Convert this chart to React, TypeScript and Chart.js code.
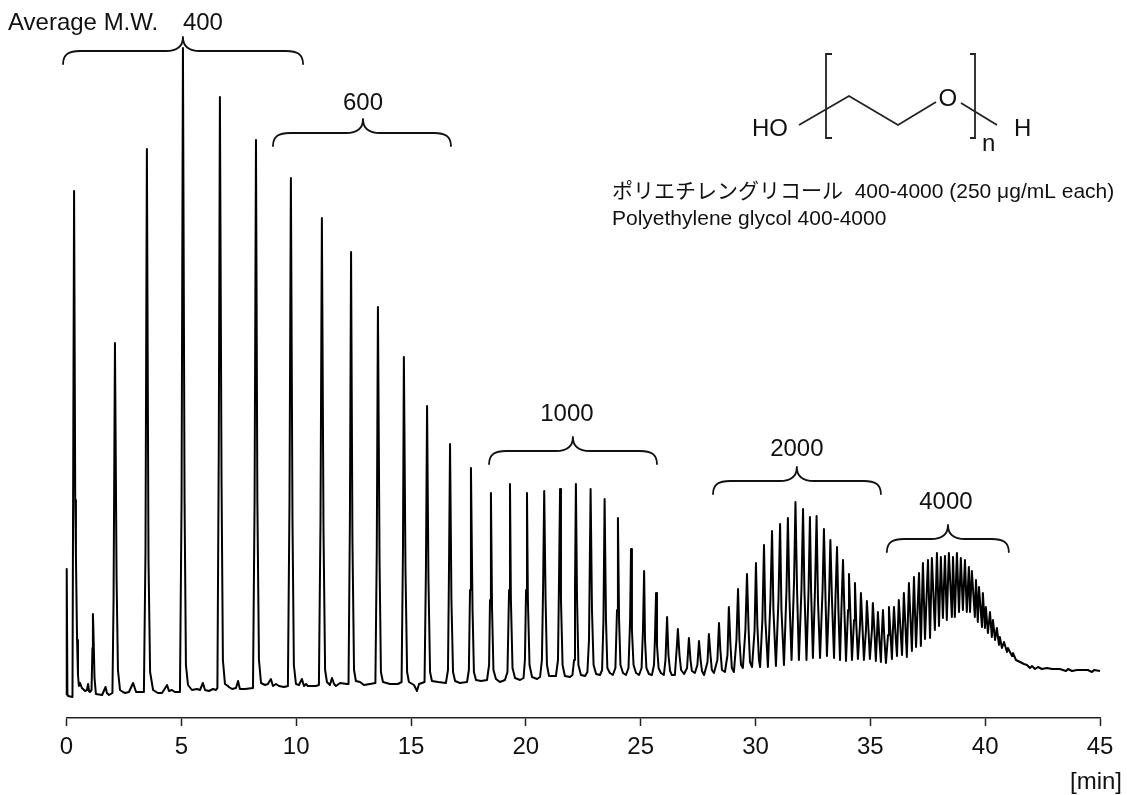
import React, { useEffect, useRef } from "react";
import { Chart, registerables } from "chart.js";

Chart.register(...registerables);

const xTicks = [0, 5, 10, 15, 20, 25, 30, 35, 40, 45];

// Trace vertices: retention time [min] and detector signal.
const startTimes = [0,0.01,0.04,0.07,0.26,0.33,0.38,0.41,0.46,0.5,0.54,0.59,0.67,0.81,0.89,0.94,0.98,1.02,1.09,1.13,1.15,1.17,1.22,1.28,1.55,1.7,1.76,1.85,2,2.05,2.11,2.18,2.24,2.33,2.46,2.55,2.72,2.9,3.03,3.2,3.37,3.44,3.5,3.57,3.64,3.77,3.98,4.16,4.38,4.46,4.59,4.72,4.94];
const startSignal = [23,149,24,22,21,527,218,163,78,43,32,35,30,27,28,34,27,26,28,70,104,90,40,24,23,31,25,23,25,120,375,140,48,28,26,25,26,35,26,26,26,168,569,158,46,28,25,25,33,27,28,26,26];

const mw400Times = [5.01,5.07,5.14,5.2,5.29,5.46,5.68,5.81,5.94,6.03,6.2,6.38,6.51,6.57,6.63,6.68,6.75,6.81,6.9,7.03,7.07,7.21,7.38,7.47,7.55,7.77,8.12,8.19,8.25,8.31,8.38,8.47,8.64,8.77,8.9,8.99,9.12,9.25,9.47,9.64,9.71,9.77,9.84,9.9,9.99,10.12,10.25,10.34,10.43,10.51,10.86,10.99,11.06,11.12,11.19,11.26,11.34,11.47,11.56,11.65,11.73,11.91,12.21,12.28];
const mw400Signal = [218,670,218,53,33,28,29,28,35,28,27,29,28,30,268,621,238,58,34,32,31,29,30,37,29,29,30,218,578,218,58,35,33,34,39,32,34,32,31,32,218,540,198,53,34,33,39,32,34,32,32,33,198,500,188,48,36,33,40,34,32,35,34,34];

const mw600Times = [12.34,12.39,12.45,12.52,12.6,12.78,12.95,13.21,13.45,13.51,13.56,13.63,13.69,13.78,14.09,14.43,14.59,14.65,14.69,14.76,14.83,14.91,15.13,15.26,15.35,15.59,15.65,15.7,15.76,15.83,15.91,16.18,16.52,16.61,16.65,16.7,16.76,16.83,16.92,17.13,17.44,17.52,17.57,17.61,17.68,17.74,17.83,18.05,18.31];
const mw600Signal = [198,466,178,48,37,36,33,34,35,168,411,158,46,36,34,34,36,168,361,148,46,36,33,27,34,36,148,312,138,46,37,36,35,48,138,274,118,46,37,35,36,48,128,250,108,46,38,37,38];

const mw1000Times = [18.4,18.44,18.48,18.53,18.59,18.7,18.87,19.09,19.2,19.27,19.31,19.35,19.42,19.53,19.75,19.9,19.96,20.01,20.05,20.09,20.16,20.27,20.49,20.62,20.7,20.75,20.8,20.86,20.92,21.01,21.18,21.31,21.4,21.44,21.49,21.53,21.6,21.7,21.92,22.03,22.1,22.14,22.18,22.23,22.29,22.4,22.58,22.68,22.75,22.82,22.88,22.95,23.06,23.23,23.32,23.38,23.43,23.49,23.55,23.66,23.79,23.9,23.97,24.01,24.06,24.12,24.23,24.36,24.47,24.54,24.58,24.62,24.69,24.8,24.93,25.04,25.1,25.15,25.19,25.25,25.36,25.49,25.58,25.62,25.67,25.71,25.78,25.88,26.01,26.08,26.15,26.21,26.28,26.36,26.49,26.58,26.62,26.69,26.76,26.89,27.02,27.1,27.17,27.23,27.36,27.47,27.54,27.61,27.67,27.76];
const mw1000Signal = [53,118,225,108,48,39,36,38,46,128,234,118,50,40,38,40,58,128,225,118,53,41,39,41,58,128,227,118,53,42,42,42,58,128,229,118,53,42,41,43,58,128,234,118,53,43,42,46,78,229,108,53,44,43,48,98,219,98,50,45,43,50,108,200,98,53,45,43,50,98,169,88,53,45,43,50,88,147,78,50,44,43,53,78,125,73,50,45,43,58,101,63,47,43,43,73,89,63,48,44,50,80,58,47,45,53,77,58,47,43];

const mw2000Times = [27.91,27.97,28.04,28.1,28.19,28.34,28.41,28.47,28.54,28.67,28.78,28.84,28.91,28.97,29.06,29.17,29.24,29.3,29.37,29.45,29.56,29.63,29.7,29.76,29.85,29.96,30.02,30.08,30.15,30.2,30.3,30.37,30.43,30.54,30.65,30.72,30.78,30.89,31,31.07,31.13,31.24,31.35,31.41,31.48,31.57,31.68,31.74,31.81,31.89,32,32.07,32.13,32.22,32.31,32.37,32.42,32.5,32.59,32.66,32.72,32.81,32.92,32.98,33.05,33.11,33.2,33.26,33.33,33.42,33.48,33.55,33.61,33.68,33.74,33.81,33.87,33.94,34.03,34.07,34.14,34.2,34.29,34.33,34.39,34.46,34.55,34.59,34.66,34.72,34.81,34.85,34.92,34.98,35.07,35.11,35.18,35.24,35.29,35.33,35.39,35.46,35.5,35.55,35.61,35.68,35.77,35.81,35.88,35.94,35.98,36.03,36.09,36.16];
const mw2000Signal = [56,84,63,48,45,58,95,68,48,46,63,111,73,50,46,78,129,78,53,50,88,144,88,56,51,88,155,93,58,51,98,173,98,51,118,187,108,52,118,194,108,53,128,200,118,58,138,216,128,58,128,209,128,58,128,201,128,60,128,202,118,60,128,189,118,62,118,178,118,60,118,171,108,58,108,158,108,57,108,144,98,58,98,135,93,59,93,125,90,58,88,117,88,59,88,115,86,57,83,106,80,56,83,108,80,55,83,111,83,59,86,111,86,62];

const mw4000Times = [36.24,36.38,36.46,36.59,36.68,36.81,36.9,36.99,37.12,37.2,37.29,37.38,37.51,37.6,37.68,37.81,37.9,37.99,38.07,38.16,38.25,38.33,38.42,38.55,38.6,38.68,38.77,38.86,38.94,39.03,39.12,39.2,39.29,39.34,39.42,39.55,39.6,39.68,39.73,39.86,39.9,39.99,40.03,40.12,40.21,40.29,40.34,40.43,40.51,40.6,40.64,40.73,40.82,40.95,40.99,41.17,41.21,41.34];
const mw4000Signal = [118,63,125,61,135,67,141,71,145,72,155,79,158,80,160,88,165,92,161,100,162,98,165,101,161,101,165,106,160,108,158,106,151,106,147,101,138,96,131,91,125,90,111,85,106,81,98,78,90,73,81,70,76,66,70,62,65,58];

const tailTimes = [41.52,41.69,41.82,41.95,42.04,42.17,42.3,42.47,42.69,42.91,43.25,43.52,43.61,43.78,44,44.21,44.47,44.65,44.74,45];
const tailSignal = [56,54,53,50,52,49,51,49,50,49,49,47,49,47,48,48,48,46,48,47];

const traceTimes = [...startTimes, ...mw400Times, ...mw600Times, ...mw1000Times, ...mw2000Times, ...mw4000Times, ...tailTimes];
const traceSignal = [...startSignal, ...mw400Signal, ...mw600Signal, ...mw1000Signal, ...mw2000Signal, ...mw4000Signal, ...tailSignal];

// Molecular-weight ranges marked with curly braces.
const rangeLabels = ["400", "600", "1000", "2000", "4000"];
const rangeStarts = [-0.15, 8.99, 18.4, 28.15, 35.72];
const rangeEnds = [10.3, 16.74, 25.71, 35.46, 41.03];
const rangeMids = [5.07, 12.91, 22.05, 31.8, 38.38];
const rangeLevels = [667, 585, 267, 237, 179];
const labelOffsets = [[20, -28], [0, -30], [-6, -37], [0, -32], [-2, -37]];

const sansFont = '"Liberation Sans", "Noto Sans CJK JP", Arial, sans-serif';
const labelFont = `24px ${sansFont}`;
const noteFont = `21px ${sansFont}`;
const ink = "#111";

const annotationPlugin = {
  id: "annotations",
  afterDatasetsDraw(chart: any) {
    const { ctx } = chart;
    const xs = chart.scales.x;
    const ys = chart.scales.y;
    ctx.save();
    ctx.strokeStyle = ink;
    ctx.fillStyle = ink;
    ctx.lineWidth = 1.8;
    ctx.lineCap = "round";
    ctx.lineJoin = "round";
    ctx.font = labelFont;
    ctx.textBaseline = "middle";

    rangeLabels.forEach((label, i) => {
      const x0 = xs.getPixelForValue(rangeStarts[i]);
      const x1 = xs.getPixelForValue(rangeEnds[i]);
      const m = xs.getPixelForValue(rangeMids[i]);
      const y = ys.getPixelForValue(rangeLevels[i]);
      const h = 13;
      const r = 17;
      ctx.beginPath();
      ctx.moveTo(x0, y + h);
      ctx.bezierCurveTo(x0, y + 3, x0 + 6, y, x0 + r, y);
      ctx.lineTo(m - r, y);
      ctx.bezierCurveTo(m - 6, y, m, y - 5, m, y - h - 1);
      ctx.bezierCurveTo(m, y - 5, m + 6, y, m + r, y);
      ctx.lineTo(x1 - r, y);
      ctx.bezierCurveTo(x1 - 6, y, x1, y + 3, x1, y + h);
      ctx.stroke();
      ctx.textAlign = "center";
      ctx.fillText(label, m + labelOffsets[i][0], y + labelOffsets[i][1]);
    });

    ctx.textAlign = "left";
    ctx.fillText("Average M.W.", 8, 23);
    ctx.textAlign = "right";
    ctx.fillText("[min]", 1122, 782);

    // Polyethylene glycol structure
    ctx.strokeStyle = "#222";
    ctx.lineJoin = "miter";
    ctx.lineCap = "butt";
    ctx.lineWidth = 1.8;
    ctx.beginPath();
    ctx.moveTo(799, 125); ctx.lineTo(849, 96); ctx.lineTo(898, 125); ctx.lineTo(936, 102);
    ctx.moveTo(961, 103); ctx.lineTo(997, 125);
    ctx.moveTo(832, 54); ctx.lineTo(826, 54); ctx.lineTo(826, 138); ctx.lineTo(832, 138);
    ctx.moveTo(970, 54); ctx.lineTo(975, 54); ctx.lineTo(975, 138); ctx.lineTo(970, 138);
    ctx.stroke();
    ctx.textAlign = "left";
    ctx.fillText("HO", 752, 129);
    ctx.fillText("O", 938.5, 99);
    ctx.fillText("n", 982, 144);
    ctx.fillText("H", 1014, 129);

    ctx.font = noteFont;
    ctx.fillText("ポリエチレングリコール  400-4000 (250 μg/mL each)", 612, 192);
    ctx.fillText("Polyethylene glycol 400-4000", 612, 219);
    ctx.restore();
  },
};

export default function App() {
  const ref = useRef<HTMLCanvasElement>(null);
  useEffect(() => {
    const chart = new Chart(ref.current!, {
      type: "line",
      data: {
        datasets: [
          {
            data: traceTimes.map((t, i) => ({ x: t, y: traceSignal[i] })),
            borderColor: "#000",
            borderWidth: 2,
            pointRadius: 0,
            tension: 0,
            borderJoinStyle: "round",
            clip: false,
          } as any,
        ],
      },
      options: {
        animation: false,
        responsive: false,
        devicePixelRatio: 1,
        layout: { padding: { left: 66.5, right: 27, top: 0, bottom: 0 } },
        plugins: { legend: { display: false }, tooltip: { enabled: false }, title: { display: false } },
        scales: {
          x: {
            type: "linear",
            min: 0,
            max: 45,
            afterFit: (s: any) => { s.height = 77; },
            afterBuildTicks: (s: any) => { s.ticks = xTicks.map((v) => ({ value: v })); },
            grid: { drawOnChartArea: false, tickLength: 8, tickColor: "#222", tickWidth: 1.5 },
            border: { display: true, color: "#222", width: 1.5 },
            ticks: { color: ink, font: { family: sansFont, size: 24 }, padding: 7, maxRotation: 0, autoSkip: false },
          },
          y: { type: "linear", display: false, min: 0, max: 718 },
        },
      },
      plugins: [annotationPlugin],
    } as any);
    return () => chart.destroy();
  }, []);
  return (
    <canvas
      ref={ref}
      width={1127}
      height={795}
      style={{ position: "absolute", left: 0, top: 0, display: "block", width: 1127, height: 795 }}
    />
  );
}
